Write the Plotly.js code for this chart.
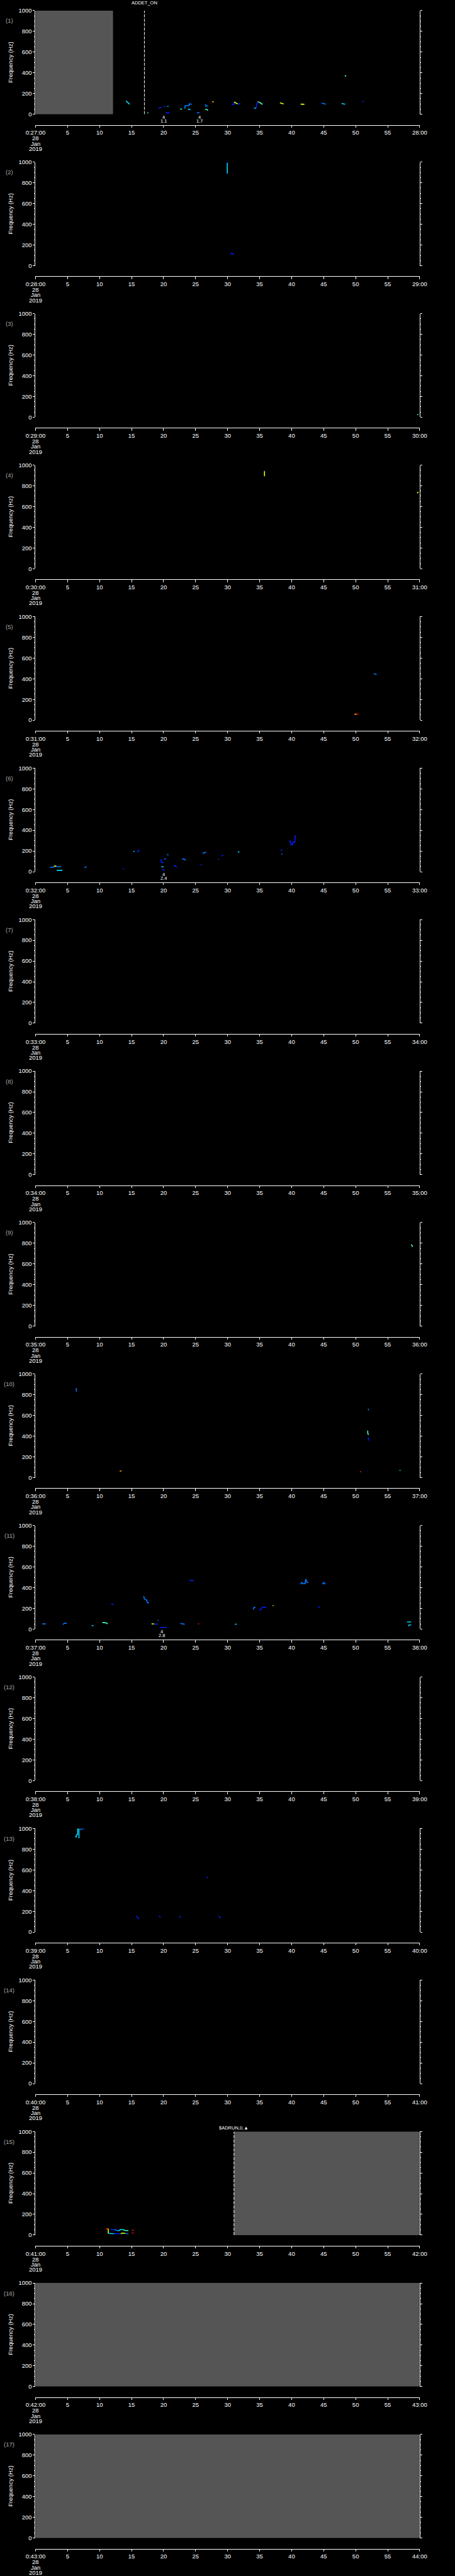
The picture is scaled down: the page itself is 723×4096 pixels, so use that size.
<!DOCTYPE html>
<html><head><meta charset="utf-8">
<script src="https://cdn.plot.ly/plotly-3.0.1.min.js"></script>
<style>html,body{margin:0;padding:0;background:#000;}#chart{width:723px;height:4096px;}</style>
</head><body><div id="chart"></div>
<script>
// ---------------- data ----------------
const startMinute = [27,28,29,30,31,32,33,34,35,36,37,38,39,40,41,42,43];
const tickSeconds = [0,5,10,15,20,25,30,35,40,45,50,55,60];
const freqTicks = [0,200,400,600,800,1000];
const dateLines = ['28','Jan','2019'];
// data gaps (grey), seconds
const gapPanel = [1, 15, 16, 17];
const gapStart = [0, 31, 0, 0];
const gapEnd   = [12.1, 60, 60, 60];
// event markers (dashed lines)
const markPanel = [1, 15];
const markTime  = [17.0, 31.0];
const markLabel = ['ADDET_ON', '$ADRUN,0,\u25B2'];
// numeric labels under plot
const numPanel  = [1, 1, 6, 11];
const numTime   = [20.0, 25.6, 20.0, 19.7];
const numTop    = ['4','4','4','4'];
const numBottom = ['1.1','1.7','2.4','2.8'];
// jet colour levels
const jet = ['#0020ff','#0078ff','#00d8ff','#40ffc0','#e8ff10','#ffa000','#ff1800'];

// segments per panel: time (s), frequency (Hz), null separates segments; c = colour level per segment
const t1 = [14.15,14.4,14.7,null,17.45,17.6,null,19.25,19.6,null,20.0,20.3,null,20.35,20.9,null,20.6,20.75,null,22.6,22.9,null,
  23.19,23.35,23.35,23.81,24.0,24.0,24.41,null,23.8,24.2,null,25.2,25.6,null,26.47,26.6,26.6,26.93,null,26.5,26.75,26.93,null,27.56,27.86,null,
  30.66,31.0,31.0,null,31.0,31.58,null,31.58,32.0,null,34.13,34.47,null,34.47,34.54,34.7,null,34.7,34.9,null,34.9,35.28,35.46,null,
  38.17,38.75,null,41.41,41.99,null,44.69,45.0,45.34,null,47.81,48.35,null,48.3,48.53,null,51.05,51.28];
const f1 = [129,112,96,null,14,14,null,57,66,null,77,77,null,14,14,null,76,76,null,49,49,null,
  60,60,83,80,83,100,96,null,50,43,null,14,14,null,92,92,78,80,null,48,48,36,null,122,118,null,
  96,96,118,null,118,100,null,100,100,null,57,60,null,60,97,120,null,120,118,null,118,100,95,null,
  110,100,null,97,96,null,108,100,96,null,104,96,null,372,368,null,122,122];
const c1 = [2,3,0,0,0,2,3,1,2,1,1,3,5,0,4,0,2,0,5,3,4,4,1,2,3,0];

const t2 = [29.95,29.95,null,29.95,30.1,null,30.4,31.0];
const f2 = [890,995,null,995,995,null,122,113];
const c2 = [2,0,0];

const t3 = [59.6,59.8];
const f3 = [25,25];
const c3 = [3];

const t4 = [35.76,35.76,null,35.7,35.82,null,59.6,59.8];
const f4 = [893,945,null,945,945,null,730,740];
const c4 = [4,0,4];

const t5 = [52.85,53.0,53.28,null,49.8,50.1,null,50.1,50.4];
const f5 = [453,445,441,null,58,58,null,60,60];
const c5 = [1,5,6];

const t6 = [2.24,2.82,2.89,null,2.89,3.24,null,3.24,3.35,4.0,null,3.3,4.2,null,7.63,7.98,null,13.64,13.82,null,15.26,15.45,null,
  15.95,16.0,16.23,null,19.61,19.65,20.0,null,20.11,20.34,null,19.65,20.0,null,19.8,20.15,null,20.53,20.76,null,
  21.57,21.85,21.9,22.12,null,22.89,23.24,23.46,null,25.78,26.0,null,26.08,26.36,26.66,null,28.5,28.67,null,29.06,29.32,null,
  31.6,31.83,null,38.27,38.54,null,38.4,38.55,null,39.56,39.86,39.9,40.13,40.2,40.48,40.55,40.66];
const f6 = [43,43,54,null,54,54,null,54,47,50,null,13,13,null,40,47,null,27,27,null,197,194,null,
  186,204,206,null,121,89,89,null,121,124,null,50,46,null,17,17,null,163,163,null,
  60,57,47,47,null,124,120,111,null,64,67,null,177,183,189,null,119,119,null,154,157,null,
  193,189,null,210,204,null,171,171,null,296,293,260,260,283,283,346,346];
const c6 = [1,4,1,2,1,0,2,0,0,1,2,0,1,0,1,0,1,0,0,2,0,1,0];

const t7 = [];
const f7 = [];
const c7 = [];

const t8 = [];
const f8 = [];
const c8 = [];

const t9 = [58.7,58.9];
const f9 = [790,765];
const c9 = [3];

const t10 = [6.37,6.37,6.45,null,13.14,13.43,null,51.97,52.0,null,51.88,51.9,52.05,null,51.95,52.05,null,50.69,50.85,null,51.85,51.95,null,56.86,57.0];
const f10 = [831,860,860,null,64,64,null,666,649,null,454,423,415,null,387,358,null,60,54,null,64,64,null,69,69];
const c10 = [1,5,1,3,0,6,0,2];

const t11 = [1.08,1.6,null,4.27,4.51,4.86,null,8.77,9.05,null,10.44,10.96,11.28,null,11.83,12.15,null,16.89,17.01,17.33,17.45,17.73,null,
  18.12,18.52,null,18.52,19.12,null,19.05,19.2,null,19.4,20.5,null,22.62,23.3,null,24.02,24.7,null,25.37,25.53,null,31.15,31.39,null,
  33.97,34.13,34.37,null,34.93,35.17,35.33,35.65,36.04,null,37.04,37.16,null,44.13,44.41,null,
  41.42,41.54,41.82,42.1,42.21,42.41,42.61,null,44.8,45.0,45.28,null,58.03,58.66,null,58.22,58.34,58.66];
const f11 = [50,50,null,44,56,56,null,34,34,null,64,61,51,null,244,236,null,319,290,283,257,251,null,
  51,49,null,49,47,null,84,84,null,16,16,null,54,47,null,471,467,null,50,50,null,47,47,null,
  190,210,210,null,183,190,207,213,206,null,226,226,null,214,210,null,
  433,450,439,439,483,450,450,null,433,450,433,null,69,69,null,29,40,40];
const c11 = [1,1,2,3,0,1,4,0,1,0,1,0,6,2,1,0,4,0,1,1,2,2];

const t12 = [];
const f12 = [];
const c12 = [];

const t13 = [6.18,6.38,6.38,6.58,6.58,6.78,6.78,null,6.98,7.1,7.57,null,15.77,16.13,null,19.32,19.52,null,22.5,22.66,null,28.64,28.88,null,26.69,26.97];
const f13 = [920,920,938,943,997,997,905,null,983,997,997,null,156,125,null,156,142,null,156,139,null,156,136,null,529,526];
const c13 = [2,1,0,0,0,0,0];

const t14 = [];
const f14 = [];
const c14 = [];

const t15 = [10.96,11.36,null,11.36,11.36,null,11.36,12.3,null,12.3,13.3,null,13.3,13.6,14.0,null,14.0,14.5,null,
  11.7,12.35,null,12.35,12.9,null,12.9,13.3,13.6,null,13.6,14.1,14.5,null,15.05,15.3,null,15.05,15.3];
const f15 = [62,62,null,62,16,null,16,13,null,13,13,null,13,19,16,null,16,13,null,
  54,52,null,52,40,null,40,54,52,null,52,43,43,null,46,46,null,21,21];
const c15 = [6,4,2,0,4,1,0,1,2,3,6,6];

const t16 = [], f16 = [], c16 = [];
const t17 = [], f17 = [], c17 = [];

// ---------------- layout helpers ----------------
const REF_W = 1024, REF_H = 5802;
const FONT = 'Liberation Sans, Arial, sans-serif';
const plotLeft = 80/REF_W, plotRight = 944.5/REF_W;
const top0 = 24, pitch = 341.2, plotH = 233.3, axisGap = 24;
const fy = px => 1 - px/REF_H;
const tickFont = {family: FONT, size: 9.5, color: '#ffffff'};

const T = [t1,t2,t3,t4,t5,t6,t7,t8,t9,t10,t11,t12,t13,t14,t15,t16,t17];
const F = [f1,f2,f3,f4,f5,f6,f7,f8,f9,f10,f11,f12,f13,f14,f15,f16,f17];
const C = [c1,c2,c3,c4,c5,c6,c7,c8,c9,c10,c11,c12,c13,c14,c15,c16,c17];

const layout = {
  width: 723, height: 4096,
  paper_bgcolor: '#000000', plot_bgcolor: '#000000',
  margin: {l:0, r:0, t:0, b:0, pad:0},
  showlegend: false,
  font: {family: FONT, color: '#ffffff'},
  annotations: [], shapes: []
};
const traces = [];

for (let k = 1; k <= 17; k++) {
  const top = top0 + pitch*(k-1);
  const bot = top + plotH;
  const axisY = bot + axisGap;
  const m = startMinute[k-1];
  const ticktext = tickSeconds.map((s,i) => i === 0 ? `0:${m}:00` : (i === tickSeconds.length-1 ? `${m+1}:00` : String(s)));
  const sfx = k === 1 ? '' : String(k);
  layout['xaxis'+sfx] = {
    domain: [plotLeft, plotRight], range: [0, 60], anchor: 'free', position: fy(axisY),
    showline: true, linecolor: '#ffffff', linewidth: 1, mirror: false,
    ticks: 'outside', ticklen: 3.3, tickwidth: 1, tickcolor: '#ffffff',
    tickmode: 'array', tickvals: tickSeconds, ticktext: ticktext, tickfont: tickFont,
    showgrid: false, zeroline: false, fixedrange: true
  };
  layout['yaxis'+sfx] = {
    domain: [fy(bot), fy(top)], range: [0, 1000], anchor: 'x'+sfx,
    showline: true, linecolor: '#ffffff', linewidth: 1, mirror: 'ticks',
    ticks: 'outside', ticklen: 3, tickwidth: 1, tickcolor: '#ffffff',
    tickmode: 'array', tickvals: freqTicks, tickfont: tickFont,
    minor: {dtick: 50, ticks: 'outside', ticklen: 1.6, tickwidth: 1, tickcolor: '#ffffff', showgrid: false},
    showgrid: false, zeroline: false, fixedrange: true
  };
  // y title and panel number
  layout.annotations.push({xref:'paper', yref:'paper', x: 23.3/REF_W, y: fy(top + plotH/2), text: 'Frequency (Hz)',
    textangle: -90, showarrow: false, xanchor: 'center', yanchor: 'middle', font: {family: FONT, size: 9.5, color: '#ffffff'}});
  layout.annotations.push({xref:'paper', yref:'paper', x: 21/REF_W, y: fy(top + 22.7), text: `(${k})`,
    showarrow: false, xanchor: 'center', yanchor: 'middle', font: {family: FONT, size: 9.5, color: '#a8a8a8'}});
  // date lines under first tick
  dateLines.forEach((d, i) => {
    layout.annotations.push({xref:'paper', yref:'paper', x: plotLeft, y: fy(axisY + 30 + 11.7*i), text: d,
      showarrow: false, xanchor: 'center', yanchor: 'middle', font: {family: FONT, size: 9.5, color: '#ffffff'}});
  });
  // segments
  const tt = T[k-1], ff = F[k-1], cc = C[k-1];
  let seg = 0, xs = [], ys = [];
  const flush = () => {
    if (xs.length) {
      traces.push({type:'scatter', mode:'lines', x: xs, y: ys, xaxis: 'x'+sfx, yaxis: 'y'+sfx,
        line: {color: jet[cc[seg]], width: 1.6}, hoverinfo: 'skip', showlegend: false, cliponaxis: true});
      seg++;
    }
    xs = []; ys = [];
  };
  for (let i = 0; i < tt.length; i++) {
    if (tt[i] === null) { flush(); continue; }
    xs.push(tt[i]); ys.push(ff[i]);
  }
  flush();
  // empty trace so every axis pair exists
  traces.push({type:'scatter', mode:'markers', x:[], y:[], xaxis:'x'+sfx, yaxis:'y'+sfx, showlegend:false, hoverinfo:'skip'});
}

// data gaps
gapPanel.forEach((p, i) => {
  const sfx = p === 1 ? '' : String(p);
  layout.shapes.push({type:'rect', xref:'x'+sfx, yref:'y'+sfx, x0: gapStart[i], x1: gapEnd[i], y0: 0, y1: 1000,
    fillcolor: '#555555', line: {width: 0}, layer: 'below'});
});
// event markers
markPanel.forEach((p, i) => {
  const sfx = p === 1 ? '' : String(p);
  layout.shapes.push({type:'line', xref:'x'+sfx, yref:'y'+sfx, x0: markTime[i], x1: markTime[i], y0: 0, y1: 1000,
    line: {color: '#ffffff', width: 1, dash: '5px,2px'}});
  layout.annotations.push({xref:'x'+sfx, yref:'paper', x: markTime[i],
    y: fy(top0 + pitch*(p-1) - (p === 1 ? 18 : 8.5)), text: markLabel[i], showarrow: false,
    xanchor: 'center', yanchor: 'middle', font: {family: FONT, size: 7.5, color: '#ffffff'}});
});
// numeric labels
numPanel.forEach((p, i) => {
  const sfx = p === 1 ? '' : String(p);
  const bot = top0 + pitch*(p-1) + plotH;
  layout.annotations.push({xref:'x'+sfx, yref:'paper', x: numTime[i], y: fy(bot + 6.5), text: numTop[i],
    showarrow: false, xanchor:'center', yanchor:'middle', font: {family: FONT, size: 7.5, color:'#ffffff'}});
  layout.annotations.push({xref:'x'+sfx, yref:'paper', x: numTime[i], y: fy(bot + 15), text: numBottom[i],
    showarrow: false, xanchor:'center', yanchor:'middle', font: {family: FONT, size: 7.5, color:'#ffffff'}});
});

Plotly.newPlot('chart', traces, layout, {staticPlot: true, displayModeBar: false});
</script></body></html>
